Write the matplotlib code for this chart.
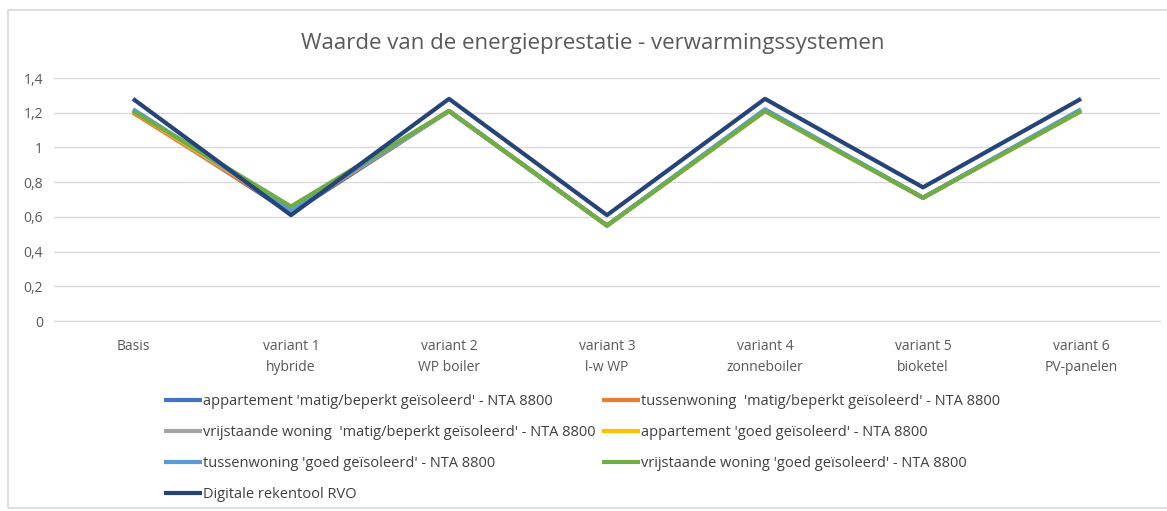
import matplotlib.pyplot as plt
from matplotlib.patches import Rectangle
from matplotlib.ticker import FuncFormatter

plt.rcParams["font.family"] = ["Open Sans", "DejaVu Sans"]

categories = ["Basis", "variant 1\nhybride", "variant 2\nWP boiler", "variant 3\nl-w WP",
              "variant 4\nzonneboiler", "variant 5\nbioketel", "variant 6\nPV-panelen"]

app_matig = [1.21, 0.62, 1.21, 0.55, 1.21, 0.71, 1.21]
tussen_matig = [1.20, 0.63, 1.21, 0.55, 1.21, 0.71, 1.21]
vrij_matig = [1.21, 0.64, 1.21, 0.55, 1.21, 0.71, 1.21]
app_goed = [1.21, 0.64, 1.21, 0.55, 1.21, 0.71, 1.21]
tussen_goed = [1.22, 0.64, 1.21, 0.55, 1.22, 0.71, 1.22]
vrij_goed = [1.21, 0.66, 1.21, 0.55, 1.21, 0.71, 1.21]
rvo = [1.28, 0.61, 1.28, 0.61, 1.28, 0.77, 1.28]

series = [
    ("appartement 'matig/beperkt geïsoleerd' - NTA 8800", app_matig, "#4472C4"),
    ("tussenwoning  'matig/beperkt geïsoleerd' - NTA 8800", tussen_matig, "#ED7D31"),
    ("vrijstaande woning  'matig/beperkt geïsoleerd' - NTA 8800", vrij_matig, "#A5A5A5"),
    ("appartement 'goed geïsoleerd' - NTA 8800", app_goed, "#FFC000"),
    ("tussenwoning 'goed geïsoleerd' - NTA 8800", tussen_goed, "#5B9BD5"),
    ("vrijstaande woning 'goed geïsoleerd' - NTA 8800", vrij_goed, "#70AD47"),
    ("Digitale rekentool RVO", rvo, "#264478"),
]

fig = plt.figure(figsize=(11.67, 5.11), dpi=100)
fig.patches.append(Rectangle((8 / 1167, 3 / 511), 1.0, 498 / 511, transform=fig.transFigure,
                             facecolor="none", edgecolor="#D9D9D9", linewidth=1.2))
ax = fig.add_axes([54 / 1167, 1 - 321 / 511, 1106 / 1167, 243 / 511])

x = range(len(categories))
handles = []
for label, vals, color in series:
    h, = ax.plot(x, vals, color=color, linewidth=3.0, label=label, solid_capstyle="butt")
    handles.append(h)

ax.set_xlim(-0.5, len(categories) - 0.5)
ax.set_ylim(0, 1.4)
ax.set_yticks([0, 0.2, 0.4, 0.6, 0.8, 1.0, 1.2, 1.4])
ax.yaxis.set_major_formatter(FuncFormatter(lambda v, p: f"{v:g}".replace(".", ",")))
ax.set_xticks(list(x))
ax.set_xticklabels(categories, fontsize=10, color="#595959", linespacing=1.5)
ax.tick_params(axis="y", labelsize=10, labelcolor="#595959", length=0, pad=8)
ax.tick_params(axis="x", length=0, pad=13)
ax.grid(axis="y", color="#D9D9D9", linewidth=1)
ax.set_axisbelow(True)
for s in ["top", "right", "left"]:
    ax.spines[s].set_visible(False)
ax.spines["bottom"].set_color("#D9D9D9")

fig.text(593 / 1167, 1 - 43 / 511, "Waarde van de energieprestatie - verwarmingssystemen",
         ha="center", va="center", fontsize=16, color="#595959")

order = [0, 2, 4, 6, 1, 3, 5]
leg = fig.legend([handles[i] for i in order], [series[i][0] for i in order],
                 ncol=2, loc="upper left", bbox_to_anchor=(158 / 1167, 1 - 388 / 511),
                 frameon=False, fontsize=10.5, handlelength=2.6, handletextpad=0.1,
                 columnspacing=0.4, labelspacing=1.1, borderaxespad=0)
for t in leg.get_texts():
    t.set_color("#404040")

fig.savefig("out.png", dpi=100)
